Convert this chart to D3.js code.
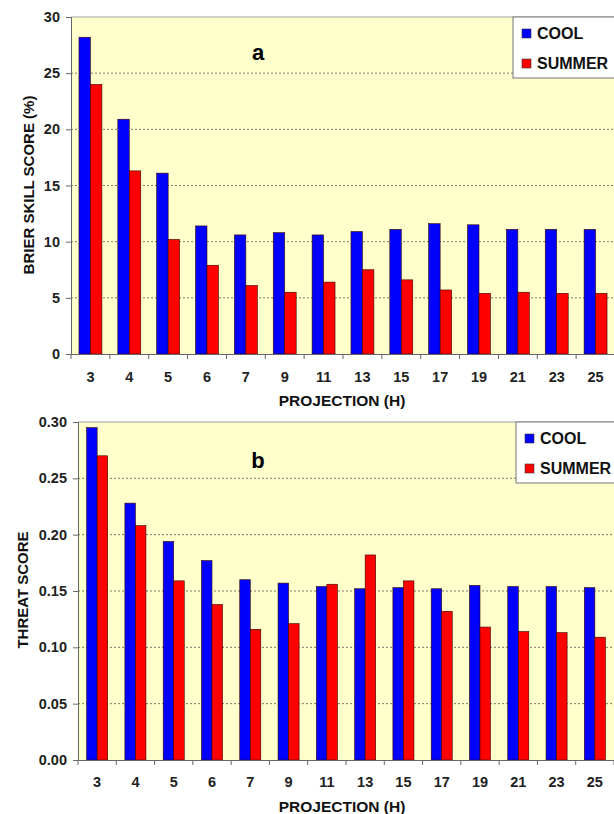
<!DOCTYPE html>
<html>
<head>
<meta charset="utf-8">
<script src="https://cdn.jsdelivr.net/npm/d3@7"></script>
<style>
  body { margin: 0; background: #fff; }
  svg { display: block; font-family: "Liberation Sans", Arial, sans-serif; }
</style>
</head>
<body>
<div id="vis"></div>
<script>
// Brier skill score and threat score by projection hour
const projections = ["3", "4", "5", "6", "7", "9", "11", "13", "15", "17", "19", "21", "23", "25"];
const seasons = ["COOL", "SUMMER"];

const brierCool   = [28.2, 20.9, 16.1, 11.4, 10.6, 10.8, 10.6, 10.9, 11.1, 11.6, 11.5, 11.1, 11.1, 11.1];
const brierSummer = [24.0, 16.3, 10.2, 7.9, 6.1, 5.5, 6.4, 7.5, 6.6, 5.7, 5.4, 5.5, 5.4, 5.4];
const brierTicks  = [0, 5, 10, 15, 20, 25, 30];

const threatCool   = [0.295, 0.228, 0.194, 0.177, 0.160, 0.157, 0.154, 0.152, 0.153, 0.152, 0.155, 0.154, 0.154, 0.153];
const threatSummer = [0.270, 0.208, 0.159, 0.138, 0.116, 0.121, 0.156, 0.182, 0.159, 0.132, 0.118, 0.114, 0.113, 0.109];
const threatTicks  = [0, 0.05, 0.10, 0.15, 0.20, 0.25, 0.30];

const colors = { COOL: "#0000ff", SUMMER: "#ff0000" };

const svg = d3.select("#vis").append("svg")
  .attr("width", 614)
  .attr("height", 814);

function drawChart(cfg) {
  const { left, right, top, bottom } = cfg;
  const g = svg.append("g");

  const x = d3.scaleBand()
    .domain(projections)
    .range([left, right])
    .paddingInner(cfg.pad)
    .paddingOuter(cfg.pad / 2);

  const x1 = d3.scaleBand()
    .domain(seasons)
    .range([0, x.bandwidth()]);

  const y = d3.scaleLinear()
    .domain([0, cfg.max])
    .range([bottom, top]);

  // plot background
  g.append("rect")
    .attr("x", left).attr("y", top)
    .attr("width", right - left).attr("height", bottom - top)
    .attr("fill", "#ffffcc");

  // dotted grid
  g.selectAll(".grid")
    .data(cfg.ticks.filter(t => t > 0 && t < cfg.max))
    .enter().append("line")
    .attr("x1", left).attr("x2", right)
    .attr("y1", d => y(d)).attr("y2", d => y(d))
    .attr("stroke", "#7a7a6a")
    .attr("stroke-width", 1)
    .attr("stroke-dasharray", "2,2");

  // top border
  g.append("line")
    .attr("x1", left).attr("x2", right)
    .attr("y1", top).attr("y2", top)
    .attr("stroke", "#a0a0a0");

  // bars
  const rows = projections.map((p, i) => ({ p, COOL: cfg.cool[i], SUMMER: cfg.summer[i] }));
  g.selectAll(".grp")
    .data(rows)
    .enter().append("g")
    .attr("transform", d => `translate(${x(d.p)},0)`)
    .selectAll("rect")
    .data(d => seasons.map(s => ({ s, v: d[s] })))
    .enter().append("rect")
    .attr("x", d => x1(d.s))
    .attr("y", d => y(d.v))
    .attr("width", x1.bandwidth())
    .attr("height", d => bottom - y(d.v))
    .attr("fill", d => colors[d.s])
    .attr("stroke", "#3a0000")
    .attr("stroke-width", 0.6);

  // y axis
  const yAxis = g.append("g")
    .attr("transform", `translate(${left},0)`)
    .call(d3.axisLeft(y).tickValues(cfg.ticks).tickFormat(cfg.fmt).tickSize(5).tickPadding(6));
  yAxis.select(".domain").attr("stroke", "#666");
  yAxis.selectAll(".tick line").attr("stroke", "#666");
  yAxis.selectAll("text")
    .attr("font-size", "14.5px").attr("font-weight", "bold").attr("fill", "#222");

  // x axis
  const xAxis = g.append("g")
    .attr("transform", `translate(0,${bottom})`)
    .call(d3.axisBottom(x).tickSize(0).tickPadding(cfg.xPad));
  xAxis.select(".domain").attr("stroke", "#666");
  xAxis.selectAll("text")
    .attr("font-size", "14.5px").attr("font-weight", "bold").attr("fill", "#222");

  // category boundary ticks
  const edges = projections.map(p => x(p) - (x.step() - x.bandwidth()) / 2).concat([right]);
  g.selectAll(".edge")
    .data(edges)
    .enter().append("line")
    .attr("x1", d => d).attr("x2", d => d)
    .attr("y1", bottom).attr("y2", bottom + 5)
    .attr("stroke", "#666");

  // axis titles
  g.append("text")
    .attr("x", cfg.xTitleX).attr("y", cfg.xTitleY)
    .attr("text-anchor", "middle")
    .attr("font-size", "15.5px").attr("font-weight", "bold").attr("fill", "#111")
    .text("PROJECTION (H)");

  g.append("text")
    .attr("transform", `translate(${cfg.yTitleX},${cfg.yTitleY}) rotate(-90)`)
    .attr("text-anchor", "middle")
    .attr("font-size", "15px").attr("font-weight", "bold").attr("fill", "#111")
    .text(cfg.yTitle);

  // panel letter
  g.append("text")
    .attr("x", 258).attr("y", cfg.letterY)
    .attr("text-anchor", "middle")
    .attr("font-size", "22px").attr("font-weight", "bold").attr("fill", "#000")
    .text(cfg.letter);

  // legend
  const lg = g.append("g").attr("transform", `translate(${cfg.legX},${top})`);
  lg.append("rect")
    .attr("x", 0).attr("y", 0)
    .attr("width", 620 - cfg.legX).attr("height", 61)
    .attr("fill", "#fff").attr("stroke", "#777");
  seasons.forEach((s, i) => {
    lg.append("rect")
      .attr("x", 9).attr("y", 12 + i * 30)
      .attr("width", 9).attr("height", 9)
      .attr("fill", colors[s]).attr("stroke", "#333").attr("stroke-width", 0.6);
    lg.append("text")
      .attr("x", 24).attr("y", 22 + i * 30)
      .attr("font-size", "16px").attr("font-weight", "bold").attr("fill", "#111")
      .text(s);
  });
}

drawChart({
  left: 71, right: 615, top: 17, bottom: 354, pad: 0.41,
  max: 30, ticks: brierTicks, fmt: d3.format("d"),
  cool: brierCool, summer: brierSummer,
  xPad: 18, xTitleX: 342, xTitleY: 406,
  yTitle: "BRIER SKILL SCORE (%)", yTitleX: 34, yTitleY: 185,
  letter: "a", letterY: 60, legX: 513
});

drawChart({
  left: 78, right: 614, top: 422, bottom: 760, pad: 0.45,
  max: 0.30, ticks: threatTicks, fmt: d3.format(".2f"),
  cool: threatCool, summer: threatSummer,
  xPad: 17, xTitleX: 342, xTitleY: 812,
  yTitle: "THREAT SCORE", yTitleX: 28, yTitleY: 590,
  letter: "b", letterY: 468, legX: 516
});
</script>
</body>
</html>
